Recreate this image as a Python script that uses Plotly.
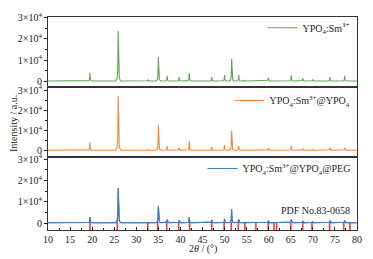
import plotly.graph_objects as go
from plotly.subplots import make_subplots

# ---- data ----
peak_pos = [19.5, 25.9, 32.6, 35.0, 37.0, 39.7, 42.0, 47.1, 50.0, 51.6, 53.2, 54.5,
            57.2, 59.9, 65.1, 67.7, 69.9, 73.9, 77.2]
green_h = [4000, 23600, 700, 11500, 2600, 2000, 4100, 2100, 3000, 10600, 3100, 600,
           400, 1700, 2900, 1400, 900, 2000, 2600]
orange_h = [4000, 27200, 600, 12500, 2300, 1500, 4800, 2000, 2800, 9700, 2400, 400,
            300, 1200, 2400, 1000, 600, 1500, 1500]
blue_h = [2900, 16500, 500, 7900, 1700, 1400, 2900, 1500, 2000, 6500, 1700, 400,
          300, 1100, 1700, 1000, 600, 1200, 1200]
pdf_pos = [19.5, 25.7, 32.6, 34.85, 36.9, 39.6, 42.1, 47.1, 49.9, 51.5, 53.1, 54.6,
           57.1, 59.9, 61.2, 61.8, 65.0, 67.7, 69.8, 73.8, 77.0, 78.4]
pdf_top = 500
baseline = 200
series_names = ["YPO<sub>4</sub>:Sm<sup>3+</sup>",
                "YPO<sub>4</sub>:Sm<sup>3+</sup>@YPO<sub>4</sub>",
                "YPO<sub>4</sub>:Sm<sup>3+</sup>@YPO<sub>4</sub>@PEG"]
x_ticks = [10, 15, 20, 25, 30, 35, 40, 45, 50, 55, 60, 65, 70, 75, 80]
y_tickvals = [0, 10000, 20000, 30000]
y_ticktext = ["0", "1×10<sup>4</sup>", "2×10<sup>4</sup>", "3×10<sup>4</sup>"]

# peak profile used to draw each diffraction line (shape only)
prof_dx = [-0.6, -0.25, -0.1, 0.0, 0.1, 0.25, 0.6]
prof_f = [0.0, 0.05, 0.22, 1.0, 0.22, 0.05, 0.0]


def pattern(pos, hts):
    xs, ys = [10], [baseline]
    for p, h in zip(pos, hts):
        for dx, f in zip(prof_dx, prof_f):
            xs.append(p + dx)
            ys.append(baseline + f * (h - baseline))
    xs.append(80)
    ys.append(baseline)
    return xs, ys


colors = ["#5aab4c", "#f7853a", "#3f7cc0"]
heights = [green_h, orange_h, blue_h]
legends = ["legend", "legend2", "legend3"]
yranges = [[-2700, 30200], [-3200, 31400], [-3200, 30900]]

FONT = "Liberation Serif"

fig = make_subplots(rows=3, cols=1, shared_xaxes=True, vertical_spacing=0)

for i in range(3):
    xs, ys = pattern(peak_pos, heights[i])
    fig.add_trace(go.Scatter(x=xs, y=ys, mode="lines", name=series_names[i],
                             line=dict(color=colors[i], width=1.1),
                             legend=legends[i], showlegend=True),
                  row=i + 1, col=1)

# PDF reference lines
px, py = [], []
for p in pdf_pos:
    px += [p, p, None]
    py += [yranges[2][0], pdf_top, None]
fig.add_trace(go.Scatter(x=px, y=py, mode="lines", line=dict(color="#f23a3a", width=1.6),
                         showlegend=False, hoverinfo="skip"), row=3, col=1)
# redraw blue on top of red bars
xs, ys = pattern(peak_pos, blue_h)
fig.add_trace(go.Scatter(x=xs, y=ys, mode="lines", line=dict(color=colors[2], width=1.1),
                         showlegend=False, hoverinfo="skip"), row=3, col=1)

H = 230 - 10.7
doms = [[(230 - 83) / H, 1.0], [(230 - 155) / H, (230 - 83) / H], [0.0, (230 - 155) / H]]

for i in range(3):
    yk = "yaxis" if i == 0 else f"yaxis{i+1}"
    xk = "xaxis" if i == 0 else f"xaxis{i+1}"
    fig.layout[yk].update(domain=doms[i], range=yranges[i], tickvals=y_tickvals,
                          ticktext=y_ticktext, ticks="outside", ticklen=3, tickwidth=1,
                          tickcolor="#222", showline=True, linecolor="#333", linewidth=1,
                          mirror=True, showgrid=False, zeroline=False,
                          tickfont=dict(family=FONT, size=10, color="#222"),
                          minor=dict(tickvals=[5000, 15000, 25000], ticks="outside",
                                     ticklen=2, tickcolor="#222"))
    fig.layout[xk].update(range=[10, 80], showline=True, linecolor="#333", linewidth=1,
                          mirror=True, showgrid=False, zeroline=False)

fig.layout.xaxis3.update(tickvals=x_ticks, ticks="inside", ticklen=3, tickcolor="#222",
                         showticklabels=True,
                         tickfont=dict(family=FONT, size=10, color="#222"),
                         minor=dict(dtick=2.5, tick0=12.5, ticks="inside", ticklen=2,
                                    tickcolor="#222"))
fig.layout.xaxis.update(ticks="", showticklabels=False)
fig.layout.xaxis2.update(ticks="", showticklabels=False)

leg_common = dict(xanchor="right", yanchor="middle", bgcolor="rgba(0,0,0,0)",
                  font=dict(family=FONT, size=10, color="#222"), itemwidth=30,
                  tracegroupgap=0)
fig.update_layout(
    legend=dict(x=0.995, y=(230 - 21.7) / H, **leg_common),
    legend2=dict(x=0.995, y=(230 - 96.7) / H, **leg_common),
    legend3=dict(x=0.995, y=(230 - 166.7) / H, **leg_common),
)

fig.add_annotation(text="PDF No.83-0658", xref="paper", yref="paper",
                   x=(357 - 48) / 314, y=(230 - 210) / H, xanchor="right", yanchor="middle",
                   showarrow=False, font=dict(family=FONT, size=10, color="#222"))
fig.add_annotation(text="Intensity / a.u.", xref="paper", yref="paper",
                   x=(13 - 48) / 314, y=0.5, textangle=-90, xanchor="center",
                   yanchor="middle", showarrow=False,
                   font=dict(family=FONT, size=10, color="#222"))
fig.add_annotation(text="2<i>θ</i> / (°)", xref="paper", yref="paper",
                   x=0.5, y=(230 - 250) / H, xanchor="center", yanchor="middle",
                   showarrow=False, font=dict(family=FONT, size=10, color="#222"))

fig.update_layout(width=373, height=259, margin=dict(l=48, r=11, t=10.7, b=29),
                  paper_bgcolor="white", plot_bgcolor="white")

fig.write_html("out.html", config={"displayModeBar": False},
               post_script="document.body.style.margin='0';document.body.style.padding='0';")
